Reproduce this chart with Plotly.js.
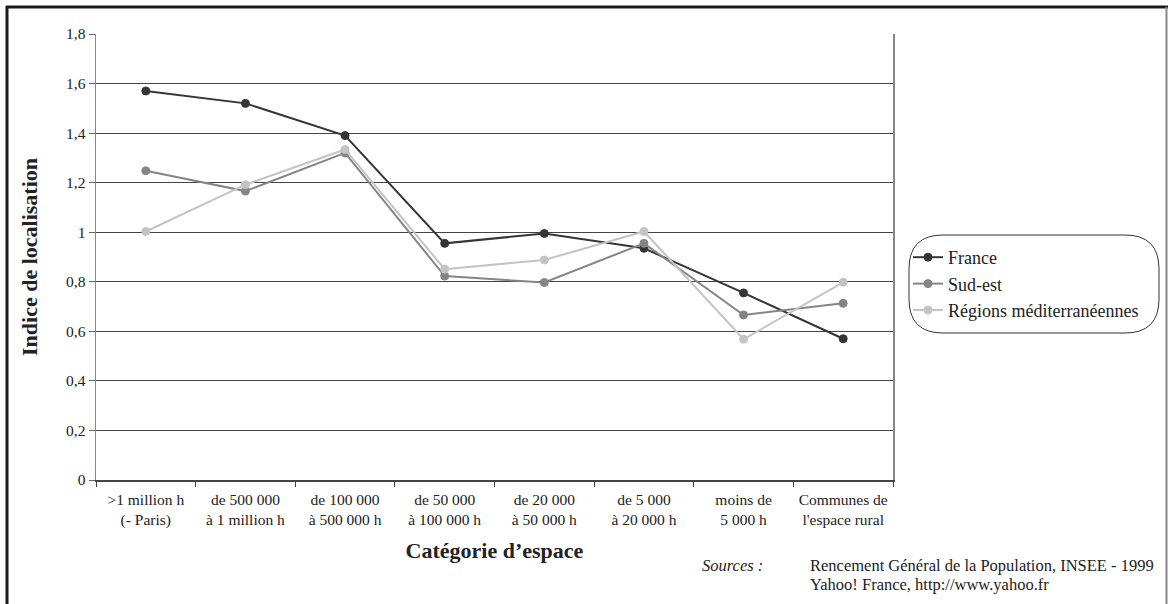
<!DOCTYPE html>
<html><head><meta charset="utf-8">
<script src="https://cdn.plot.ly/plotly-3.0.1.min.js"></script>
<style>body{margin:0;background:#fff}#c{width:1168px;height:604px}</style>
</head><body><div id="c"></div>
<script>
const categories = [">1 million h<br>(- Paris)", "de 500 000<br>à 1 million h", "de 100 000<br>à 500 000 h", "de 50 000<br>à 100 000 h", "de 20 000<br>à 50 000 h", "de 5 000<br>à 20 000 h", "moins de<br>5 000 h", "Communes de<br>l'espace rural"];
const france = [1.57, 1.52, 1.39, 0.955, 0.995, 0.935, 0.755, 0.57];
const sudEst = [1.248, 1.166, 1.32, 0.823, 0.797, 0.955, 0.666, 0.713];
const regionsMed = [1.003, 1.192, 1.334, 0.851, 0.888, 1.003, 0.568, 0.798];
const yTickVals = [0, 0.2, 0.4, 0.6, 0.8, 1, 1.2, 1.4, 1.6, 1.8];
const yTickText = ["0", "0,2", "0,4", "0,6", "0,8", "1", "1,2", "1,4", "1,6", "1,8"];

const W = 1168, H = 604, L = 96, R = 893, T = 34, B = 480;
const px = x => (x - L) / (R - L);
const py = y => (B - y) / (B - T);
const FONT = "Liberation Serif, Times New Roman, serif";

function tr(name, y, color, lw) {
  return {type: 'scatter', mode: 'lines+markers', name: name, x: categories, y: y,
    line: {color: color, width: lw},
    marker: {color: color, size: 8, line: {color: color, width: 1}}};
}
const data = [
  tr('France', france, '#353535', 2),
  tr('Sud-est', sudEst, '#858585', 2),
  tr('Régions méditerranéennes', regionsMed, '#c4c4c4', 2)
];

function roundRect(x0, y0, x1, y1, r) {
  const P = (x, y) => px(x) + ',' + py(y);
  return 'M' + P(x0 + r, y0) + ' L' + P(x1 - r, y0) + ' Q' + P(x1, y0) + ' ' + P(x1, y0 + r) +
    ' L' + P(x1, y1 - r) + ' Q' + P(x1, y1) + ' ' + P(x1 - r, y1) +
    ' L' + P(x0 + r, y1) + ' Q' + P(x0, y1) + ' ' + P(x0, y1 - r) +
    ' L' + P(x0, y0 + r) + ' Q' + P(x0, y0) + ' ' + P(x0 + r, y0) + ' Z';
}

const layout = {
  width: W, height: H,
  margin: {l: L, r: W - R, t: T, b: H - B},
  paper_bgcolor: '#fff', plot_bgcolor: '#fff',
  font: {family: FONT, size: 15.5, color: '#222'},
  showlegend: true,
  legend: {x: px(908), y: py(239), xanchor: 'left', yanchor: 'top',
    bgcolor: 'rgba(0,0,0,0)', borderwidth: 0, font: {family: FONT, size: 18, color: '#222'},
    tracegroupgap: 0, itemwidth: 30},
  xaxis: {type: 'category', tickson: 'boundaries', ticks: 'outside', ticklen: 5, tickcolor: '#444',
    showline: true, linecolor: '#444', linewidth: 1.5, showgrid: false, zeroline: false,
    ticklabelstandoff: 5,
    tickfont: {family: FONT, size: 15.5, color: '#222'},
    title: {text: '<b>Catégorie d’espace</b>', font: {family: FONT, size: 22, color: '#222'}, standoff: 14},
    range: [-0.5, 7.5], fixedrange: true},
  yaxis: {range: [0, 1.8], tickvals: yTickVals, ticktext: yTickText, ticks: 'outside', ticklen: 6,
    tickcolor: '#666', showline: true, mirror: true, linecolor: '#888', linewidth: 1.5,
    showgrid: true, gridcolor: '#444', gridwidth: 1, zeroline: false,
    tickfont: {family: FONT, size: 15.5, color: '#222'},
    title: {text: '<b>Indice de localisation</b>', font: {family: FONT, size: 22, color: '#222'}, standoff: 22},
    fixedrange: true},
  shapes: [
    {type: 'path', xref: 'paper', yref: 'paper', path: roundRect(909, 235, 1159, 333, 34),
      line: {color: '#333', width: 1}, fillcolor: 'rgba(0,0,0,0)'},
    {type: 'line', xref: 'paper', yref: 'paper', x0: px(6), x1: px(1168), y0: py(7), y1: py(7),
      line: {color: '#1a1a1a', width: 3}},
    {type: 'line', xref: 'paper', yref: 'paper', x0: px(7), x1: px(7), y0: py(6), y1: py(604),
      line: {color: '#1a1a1a', width: 3}},
    {type: 'line', xref: 'paper', yref: 'paper', x0: px(1166.5), x1: px(1166.5), y0: py(7), y1: py(604),
      line: {color: '#888', width: 2}}
  ],
  annotations: [
    {xref: 'paper', yref: 'paper', x: px(765), y: py(565), xanchor: 'right', yanchor: 'middle',
      text: '<i>Sources :</i>', showarrow: false, font: {family: FONT, size: 16.5, color: '#222'}},
    {xref: 'paper', yref: 'paper', x: px(808), y: py(565), xanchor: 'left', yanchor: 'middle',
      text: 'Rencement Général de la Population, INSEE - 1999',
      showarrow: false, font: {family: FONT, size: 16.5, color: '#222'}},
    {xref: 'paper', yref: 'paper', x: px(808), y: py(584), xanchor: 'left', yanchor: 'middle',
      text: 'Yahoo! France, http://www.yahoo.fr',
      showarrow: false, font: {family: FONT, size: 16.5, color: '#222'}}
  ]
};
Plotly.newPlot('c', data, layout, {staticPlot: true, displayModeBar: false});
</script></body></html>
